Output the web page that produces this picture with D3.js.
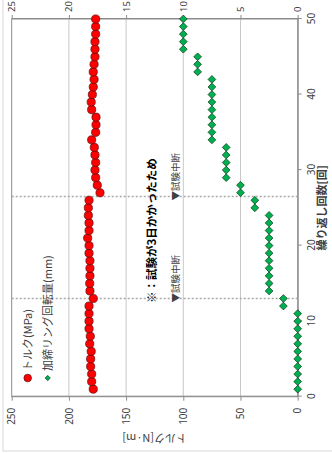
<!DOCTYPE html>
<html>
<head>
<meta charset="utf-8">
<script src="https://cdn.jsdelivr.net/npm/d3@7"></script>
<style>
  html, body { margin: 0; padding: 0; background: #fff; }
  svg { display: block; }
  text { font-family: "Noto Sans CJK JP", "Noto Sans", sans-serif; }
</style>
</head>
<body>
<svg id="chart" width="332" height="453"></svg>
<script>
// Cycle number of each measurement
const cycles = [1,2,3,4,5,6,7,8,9,10,11,12,13,14,15,16,17,18,19,20,21,22,23,24,25,
                26,27,28,29,30,31,32,33,34,35,36,37,38,39,40,41,42,43,44,45,46,47,48,49,50];
// Torque per cycle [N·m]
const torque = [178.7,180.1,180.1,181.0,181.0,180.5,181.8,181.3,182.4,182.4,
                182.4,182.4,178.7,181.6,181.8,181.6,181.6,181.6,182.4,182.4,
                183.6,182.4,182.4,183.0,183.0,182.4,172.8,175.2,176.6,177.2,
                176.6,177.2,177.8,180.1,176.6,176.3,176.3,180.1,180.5,179.5,
                178.7,178.0,178.7,178.0,177.2,177.2,177.2,176.6,176.6,176.6];
// Crimp ring rotation per cycle [mm]
const rotation = [0,0,0,0,0,0,0,0,0,0,0,
                  1.25,1.25,
                  2.5,2.5,2.5,2.5,2.5,2.5,2.5,2.5,2.5,2.5,2.5,
                  3.75,3.75,
                  5,5,
                  6.25,6.25,6.25,6.25,6.25,
                  7.5,7.5,7.5,7.5,7.5,7.5,7.5,7.5,7.5,
                  8.75,8.75,8.75,
                  10,10,10,10,10];
// Cycles at which the test was interrupted
const interruptions = [13, 26.5];
// Tick values
const cycleTicks = [0,10,20,30,40,50];
const torqueTicks = [0,50,100,150,200,250];
const rotationTicks = [0,5,10,15,20,25];

const seriesNames = ["トルク(MPa)", "加締リング回転量(mm)"];
const xTitle = "繰り返し回数[回]";
const yTitle = "トルク[N·m]";
const interruptLabel = "▼試験中断";
const note = "※：試験が3日かかったため";

// The chart is laid out landscape (453 x 332) and turned a quarter turn counter-clockwise.
const svg = d3.select("#chart");
const g = svg.append("g").attr("transform", `translate(0,${453}) rotate(-90)`);

const plot = { left: 56.3, right: 434, top: 11.7, bottom: 297.7 };

const x = d3.scaleLinear().domain([0, 50]).range([plot.left, plot.right]);
const yL = d3.scaleLinear().domain([0, 250]).range([plot.bottom, plot.top]);
const yR = d3.scaleLinear().domain([0, 25]).range([plot.bottom, plot.top]);

// outer chart frame
g.append("rect").attr("x", 2).attr("y", 3).attr("width", 600).attr("height", 600)
  .attr("fill", "none").attr("stroke", "#d9d9d9").attr("stroke-width", 1);

// horizontal gridlines
g.append("g").selectAll("line").data(torqueTicks.filter(t => t > 0 && t < 250)).join("line")
  .attr("x1", plot.left).attr("x2", plot.right)
  .attr("y1", d => yL(d)).attr("y2", d => yL(d))
  .attr("stroke", "#c8c8c8").attr("stroke-width", 1);

// plot border
g.append("rect").attr("x", plot.left).attr("y", plot.top)
  .attr("width", plot.right - plot.left).attr("height", plot.bottom - plot.top)
  .attr("fill", "none").attr("stroke", "#8c8c8c").attr("stroke-width", 1);

function styleAxis(sel) {
  sel.select(".domain").attr("stroke", "#8c8c8c");
  sel.selectAll(".tick line").attr("stroke", "#8c8c8c");
  sel.selectAll(".tick text").attr("fill", "#404040").style("font-size", "10px")
    .style("font-family", "'Noto Sans', sans-serif");
}

g.append("g").attr("transform", `translate(0,${plot.bottom})`)
  .call(d3.axisBottom(x).tickValues(cycleTicks).tickSize(4).tickPadding(6).tickSizeOuter(0))
  .call(styleAxis);

g.append("g").attr("transform", `translate(${plot.left},0)`)
  .call(d3.axisLeft(yL).tickValues(torqueTicks).tickSize(4).tickPadding(7).tickSizeOuter(0))
  .call(styleAxis);

g.append("g").attr("transform", `translate(${plot.right},0)`)
  .call(d3.axisRight(yR).tickValues(rotationTicks).tickSize(4).tickPadding(3).tickSizeOuter(0))
  .call(styleAxis)
  .call(s => s.selectAll(".tick text").style("font-size", "9.5px"));

// interruption markers
g.append("g").selectAll("line").data(interruptions).join("line")
  .attr("x1", d => x(d)).attr("x2", d => x(d))
  .attr("y1", plot.top).attr("y2", plot.bottom)
  .attr("stroke", "#a6a6a6").attr("stroke-width", 1.3).attr("stroke-dasharray", "2,2");

g.append("g").selectAll("text").data(interruptions).join("text")
  .attr("x", d => x(d) - 4).attr("y", 178.5)
  .attr("fill", "#404040").style("font-size", "9.5px")
  .text(interruptLabel);

g.append("text").attr("x", x(12.4)).attr("y", 156)
  .attr("fill", "#000").style("font-size", "11.5px").style("font-weight", "bold")
  .text(note);

// data points
const pts = cycles.map((c, i) => ({ c, t: torque[i], r: rotation[i] }));

g.append("g").selectAll("path").data(pts).join("path")
  .attr("transform", d => `translate(${x(d.c)},${yR(d.r)}) rotate(45)`)
  .attr("d", d3.symbol(d3.symbolSquare, 30))
  .attr("fill", "#00b050").attr("stroke", "#0d3b1c").attr("stroke-width", 0.7);

g.append("g").selectAll("circle").data(pts).join("circle")
  .attr("cx", d => x(d.c)).attr("cy", d => yL(d.t)).attr("r", 4.1)
  .attr("fill", "#ff0000").attr("stroke", "#5a0a0a").attr("stroke-width", 0.7);

// legend
const leg = g.append("g");
leg.append("circle").attr("cx", 75).attr("cy", 27.7).attr("r", 3.8)
  .attr("fill", "#ff0000").attr("stroke", "#5a0a0a").attr("stroke-width", 0.7);
leg.append("path").attr("transform", "translate(75,47.7) rotate(45)")
  .attr("d", d3.symbol(d3.symbolSquare, 14))
  .attr("fill", "#00b050").attr("stroke", "#0d3b1c").attr("stroke-width", 0.6);
leg.selectAll("text").data(seriesNames).join("text")
  .attr("x", 82).attr("y", (d, i) => 27.7 + i * 20).attr("dy", "0.35em")
  .attr("fill", "#404040").style("font-size", "11px")
  .text(d => d);

// axis titles
g.append("text").attr("x", (plot.left + plot.right) / 2).attr("y", 322).attr("dy", "0.35em")
  .attr("text-anchor", "middle").attr("fill", "#404040")
  .style("font-size", "11px").style("font-weight", "bold").text(xTitle);

g.append("text").attr("transform", `translate(15,${(plot.top + plot.bottom) / 2}) rotate(-90)`)
  .attr("text-anchor", "middle").attr("dy", "0.35em").attr("fill", "#404040")
  .style("font-size", "11px").text(yTitle);
</script>
</body>
</html>
